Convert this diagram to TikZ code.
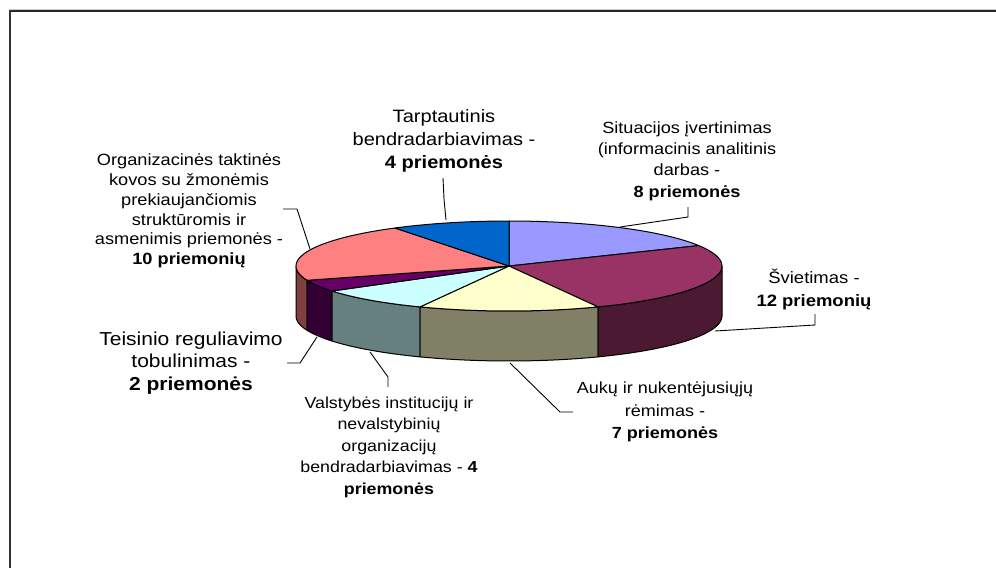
\documentclass[tikz,border=0pt]{standalone}
\usepackage{fontspec}
\setmainfont{Liberation Sans}[FakeStretch=1.12]
\definecolor{cSit}{HTML}{9999FF}
\definecolor{cSv}{HTML}{993366}
\definecolor{cAuk}{HTML}{FFFFCC}
\definecolor{cVal}{HTML}{CCFFFF}
\definecolor{cTeis}{HTML}{660066}
\definecolor{cOrg}{HTML}{FF8080}
\definecolor{cTarp}{HTML}{0066CC}
\begin{document}
\begin{tikzpicture}[x=1pt,y=-1pt,
  lbl/.style 2 args={align=center,inner sep=0pt,font=\fontsize{#1}{#2}\selectfont},
  lead/.style={draw=black,line width=0.9pt},
  slice/.style={draw=black,line width=1pt,line join=round}]
  \useasboundingbox (0,0) rectangle (996,568);
  \def\cx{509}
  \def\cy{266}
  \def\ra{213}
  \def\rb{45}
  \def\dep{50}
  % frame (top and left edge only)
  \draw[gray!40,line width=1pt] (9,9) -- (996,9);
  \draw[black!85,line width=1.6pt] (9.5,10.8) -- (996,10.8);
  \draw[black!80,line width=2pt] (10,10) -- (10,568);
  \coordinate (ctr) at (\cx,\cy);
  % side walls of the front half
  \foreach \s/\e/\col in {-180/-161.5/cOrg, -161.5/-146.2/cTeis, -146.2/-114.7/cVal, -114.7/-65.3/cAuk, -65.3/0/cSv} {
    \filldraw[slice,fill=\col!50!black]
      plot[domain=\s:\e,samples=20,variable=\t] ({\cx+\ra*cos(\t)},{\cy-\rb*sin(\t)})
      -- plot[domain=\e:\s,samples=20,variable=\t] ({\cx+\ra*cos(\t)},{\cy+\dep-\rb*sin(\t)}) -- cycle;
  }
  % top slices, clockwise from the top
  \foreach \s/\e/\col in {90/27/cSit, 27/-65.3/cSv, -65.3/-114.7/cAuk, -114.7/-146.2/cVal, -146.2/-161.5/cTeis, -161.5/-237.6/cOrg, -237.6/-270/cTarp} {
    \filldraw[slice,fill=\col] (ctr)
      -- plot[domain=\s:\e,samples=30,variable=\t] ({\cx+\ra*cos(\t)},{\cy-\rb*sin(\t)}) -- cycle;
  }
  % labels
  \node[lbl={17.9}{23}] (lTarp) at (444,141) {Tarptautinis\\bendradarbiavimas -\\\textbf{4 priemonės}};
  \node[lbl={16.2}{21.3}] (lSit) at (687,161) {Situacijos įvertinimas\\(informacinis analitinis\\darbas -\\\textbf{8 priemonės}};
  \node[lbl={16.25}{19.8}] (lOrg) at (189,211) {Organizacinės taktinės\\kovos su žmonėmis\\prekiaujančiomis\\struktūromis ir\\asmenimis priemonės -\\\textbf{10 priemonių}};
  \node[lbl={16.5}{23}] (lSv) at (814,289) {Švietimas -\\\textbf{12 priemonių}};
  \node[lbl={16.1}{22.5}] (lAuk) at (665,412) {Aukų ir nukentėjusiųjų\\rėmimas -\\\textbf{7 priemonės}};
  \node[lbl={18.75}{22.5}] (lTeis) at (191,363) {Teisinio reguliavimo\\tobulinimas -\\\textbf{2 priemonės}};
  \node[lbl={15.9}{21.5}] (lVal) at (389,447) {Valstybės institucijų ir\\nevalstybinių\\organizacijų\\bendradarbiavimas - \textbf{4}\\\textbf{priemonės}};
  % leader lines: label end, bend, pie end
  \foreach \n/\ax/\ay/\bx/\by/\px/\py in {tarp/443/178/444/199/446/220, sit/688/207/688/217/620/227,
      org/283/209/297/209/310/249, sv/815/314/815/325/715/331, auk/573/412/560/412/510/363,
      val/388/387/388/377/370/352, teis/287/363/300/363/317/337} {
    \coordinate (\n A) at (\ax,\ay);
    \coordinate (\n B) at (\bx,\by);
    \coordinate (\n P) at (\px,\py);
    \draw[lead] (\n A) -- (\n B) -- (\n P);
  }
\end{tikzpicture}
\end{document}
